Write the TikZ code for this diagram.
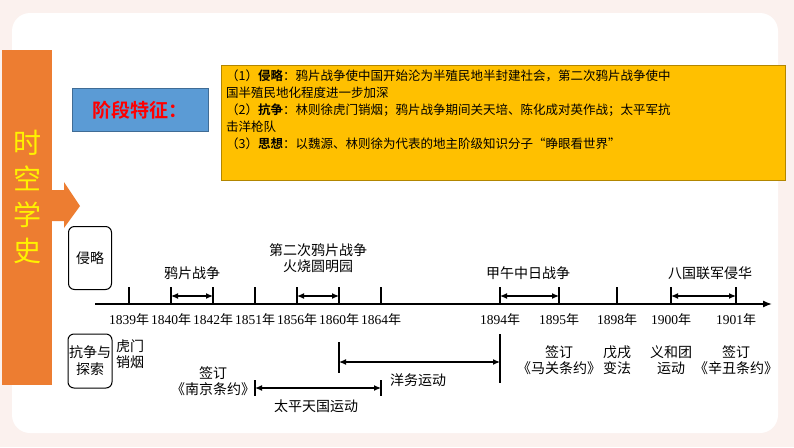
\documentclass[tikz,border=0pt]{standalone}
\usepackage{fontspec}
\setmainfont{Liberation Serif}
\newfontfamily\cjk{Noto Sans CJK SC}
\newfontfamily\cjkb{Noto Sans CJK SC Bold}
\usetikzlibrary{arrows.meta}
\definecolor{bgpink}{HTML}{FBF1EE}
\definecolor{orng}{HTML}{ED7D31}
\definecolor{blu}{HTML}{5B9BD5}
\definecolor{ylw}{HTML}{FFC000}
\begin{document}
\begin{tikzpicture}[x=1pt,y=-1pt,
  lbl/.style={font=\cjk\fontsize{14}{16}\selectfont,inner sep=0pt,align=center},
  yr/.style={font=\fontsize{13.5}{16}\selectfont,inner sep=0pt},
  tk/.style={line width=1.2pt},
  dbl/.style={line width=1.2pt,{Latex[length=7pt,width=6pt]}-{Latex[length=7pt,width=6pt]}},
  cat/.style={draw,line width=1pt,rounded corners=6pt,font=\cjk\fontsize{14}{17}\selectfont,align=center,inner sep=1pt}]
\useasboundingbox (0,0) rectangle (794,447);
\fill[bgpink] (0,0) rectangle (794,447);
\fill[white,rounded corners=18pt] (12,13) rectangle (778,433);
% orange bar
\node[fill=orng,minimum width=50pt,minimum height=335pt,inner sep=0pt] (bar) at (27,217) {};
\fill[orng] (50,190) -- (64,190) -- (64,182) -- (80,206) -- (64,228) -- (64,221) -- (50,221) -- cycle;
\node[font=\cjk\fontsize{28}{36}\selectfont,text=yellow,align=center,inner sep=0pt] (ttl) at (27,197) {时\\空\\学\\史};
% blue
\node[fill=blu,draw=blu!70!black,minimum width=136pt,minimum height=43pt,inner sep=0pt,font=\cjkb\fontsize{19}{22}\selectfont,text=red] (stage) at (140,110) {阶段特征：};
% yellow
\node[fill=ylw,draw=ylw!70!black,line width=0.4pt,minimum width=564pt,minimum height=115pt,anchor=north west,inner sep=0pt] (yb) at (221,65) {};
\node[anchor=north west,align=left,inner sep=0pt,font=\cjk\fontsize{12.5}{17}\selectfont] (ytext) at (226,70) {（1）{\cjkb 侵略}：鸦片战争使中国开始沦为半殖民地半封建社会，第二次鸦片战争使中\\国半殖民地化程度进一步加深\\（2）{\cjkb 抗争}：林则徐虎门销烟；鸦片战争期间关天培、陈化成对英作战；太平军抗\\击洋枪队\\（3）{\cjkb 思想}：以魏源、林则徐为代表的地主阶级知识分子“睁眼看世界”};
% category boxes
\node[cat,minimum width=43pt,minimum height=63pt] (inv) at (90,258) {侵略};
\node[cat,minimum width=41pt,minimum height=54pt] (res) at (90,361) {抗争与\\探索};
% axis
\coordinate (a0) at (95,304); \coordinate (a1) at (772,304);
\draw[line width=1.4pt,-{Latex[length=9pt,width=7pt]}] (a0) -- (a1);
\foreach \x/\y/\n in {129/1839/t1,171/1840/t2,213/1842/t3,255/1851/t4,297/1856/t5,339/1860/t6,381/1864/t7,500/1894/t8,559/1895/t9,617/1898/t10,671/1900/t11,736/1901/t12}{
  \coordinate (\n) at (\x,304);
  \coordinate (\n u) at (\x,287);
  \draw[tk] (\n) -- (\n u);
  \node[yr] (y\n) at (\x,320) {\y{\cjk\fontsize{13}{16}\selectfont 年}};
}
\coordinate (d2) at (171,296); \coordinate (d3) at (213,296);
\coordinate (d5) at (297,296); \coordinate (d6) at (339,296);
\coordinate (d8) at (500,296); \coordinate (d9) at (559,296);
\coordinate (d11) at (671,296); \coordinate (d12) at (736,296);
\draw[dbl] (d2) -- (d3); \draw[dbl] (d5) -- (d6); \draw[dbl] (d8) -- (d9); \draw[dbl] (d11) -- (d12);
\node[lbl] (w1) at (192,273) {鸦片战争};
\node[lbl,align=center] (w2) at (318,258) {第二次鸦片战争\\火烧圆明园};
\node[lbl] (w3) at (528,273) {甲午中日战争};
\node[lbl] (w4) at (710,273) {八国联军侵华};
% below
\node[lbl,anchor=west] (hm) at (116,354) {虎门\\销烟};
\node[lbl] (nj) at (213,381) {签订\\《南京条约》};
\coordinate (tp1) at (255,388); \coordinate (tp2) at (381,388);
\draw[dbl] (tp1) -- (tp2);
\draw[tk] (255,380) -- (255,396); \draw[tk] (381,380) -- (381,396);
\node[lbl] (tp) at (316,406) {太平天国运动};
\coordinate (v1a) at (339,342); \coordinate (v1b) at (339,373);
\draw[tk] (v1a) -- (v1b);
\coordinate (v2a) at (500,334); \coordinate (v2b) at (500,383);
\draw[tk] (v2a) -- (v2b);
\coordinate (yw1) at (339,362); \coordinate (yw2) at (500,362);
\draw[dbl] (yw1) -- (yw2);
\node[lbl] (yw) at (418,380) {洋务运动};
\node[lbl] (mg) at (559,360) {签订\\《马关条约》};
\node[lbl] (wx) at (617,360) {戊戌\\变法};
\node[lbl] (yh) at (671,360) {义和团\\运动};
\node[lbl] (xc) at (736,360) {签订\\《辛丑条约》};
\end{tikzpicture}
\end{document}
